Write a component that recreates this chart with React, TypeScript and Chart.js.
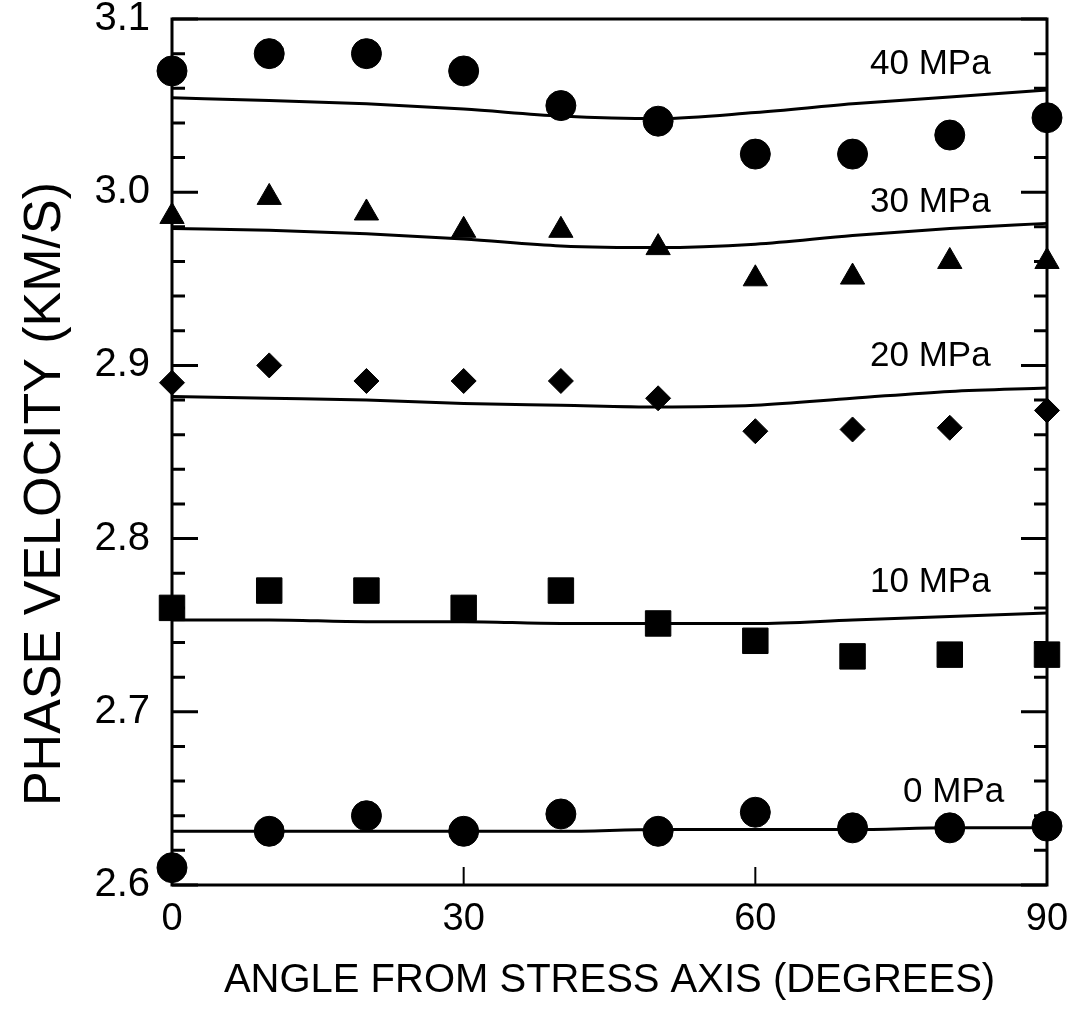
import React, { useEffect, useRef } from 'react';
import { Chart, registerables } from 'chart.js';

Chart.register(...registerables);

// ---- data ----
const angles = [0, 10, 20, 30, 40, 50, 60, 70, 80, 90];

const measured0 = [2.610, 2.631, 2.640, 2.631, 2.641, 2.631, 2.642, 2.633, 2.633, 2.634];
const measured10 = [2.760, 2.770, 2.770, 2.760, 2.770, 2.751, 2.741, 2.732, 2.733, 2.733];
const measured20 = [2.890, 2.900, 2.891, 2.891, 2.891, 2.881, 2.862, 2.863, 2.864, 2.874];
const measured30 = [2.986, 2.997, 2.988, 2.978, 2.978, 2.968, 2.950, 2.951, 2.960, 2.960];
const measured40 = [3.070, 3.080, 3.080, 3.070, 3.050, 3.041, 3.022, 3.022, 3.033, 3.043];

const model0 = [2.631, 2.631, 2.631, 2.631, 2.631, 2.632, 2.632, 2.632, 2.633, 2.633];
const model10 = [2.753, 2.753, 2.752, 2.752, 2.751, 2.751, 2.751, 2.753, 2.755, 2.757];
const model20 = [2.882, 2.881, 2.880, 2.878, 2.877, 2.876, 2.877, 2.881, 2.885, 2.887];
const model30 = [2.979, 2.978, 2.976, 2.973, 2.969, 2.968, 2.970, 2.975, 2.979, 2.982];
const model40 = [3.0545, 3.053, 3.051, 3.048, 3.044, 3.0425, 3.046, 3.051, 3.055, 3.059];

const stressLabels = ['40 MPa', '30 MPa', '20 MPa', '10 MPa', '0 MPa'];
const stressLabelY = [3.074, 2.994, 2.9055, 2.775, 2.6535];
const stressLabelX = [84.2, 84.2, 84.2, 84.2, 85.6];

const xTickValues = [0, 30, 60, 90];
const yTickValues = [2.6, 2.7, 2.8, 2.9, 3.0, 3.1];
const yMinorStep = 0.02;

const xTitle = 'ANGLE FROM STRESS AXIS (DEGREES)';
const yTitle = 'PHASE VELOCITY (KM/S)';

const FONT = '"Liberation Sans", Arial, Helvetica, sans-serif';

const pts = (ys: number[]) => angles.map((a, i) => ({ x: a, y: ys[i] }));

const decor = {
  id: 'decor',
  beforeDatasetsDraw(chart: any) {
    const { ctx, chartArea: a, scales } = chart;
    const x = scales.x;
    const y = scales.y;
    ctx.save();
    ctx.strokeStyle = '#000';
    ctx.lineWidth = 3;
    ctx.lineCap = 'butt';
    ctx.strokeRect(a.left, a.top, a.right - a.left, a.bottom - a.top);
    const n = Math.round((y.max - y.min) / yMinorStep);
    for (let i = 0; i <= n; i++) {
      const v = y.min + i * yMinorStep;
      const py = y.getPixelForValue(v);
      const len = i % 5 === 0 ? 26 : 13;
      ctx.beginPath();
      ctx.moveTo(a.left, py);
      ctx.lineTo(a.left + len, py);
      ctx.moveTo(a.right, py);
      ctx.lineTo(a.right - len, py);
      ctx.stroke();
    }
    ctx.lineWidth = 2;
    [30, 60].forEach((v) => {
      const px = x.getPixelForValue(v);
      ctx.beginPath();
      ctx.moveTo(px, a.bottom);
      ctx.lineTo(px, a.bottom - 18);
      ctx.stroke();
    });
    ctx.restore();
  },
  afterDatasetsDraw(chart: any) {
    const { ctx, scales } = chart;
    const x = scales.x;
    const y = scales.y;
    ctx.save();
    ctx.fillStyle = '#000';
    ctx.font = `35px ${FONT}`;
    ctx.textAlign = 'right';
    ctx.textBaseline = 'middle';
    stressLabels.forEach((t, i) => {
      ctx.fillText(t, x.getPixelForValue(stressLabelX[i]), y.getPixelForValue(stressLabelY[i]));
    });
    // y axis title
    ctx.font = `52px ${FONT}`;
    ctx.textAlign = 'center';
    ctx.textBaseline = 'middle';
    ctx.translate(46, 494);
    ctx.rotate(-Math.PI / 2);
    ctx.fillText(yTitle, 0, 0);
    ctx.restore();
  },
};

export default function App() {
  const ref = useRef<HTMLCanvasElement | null>(null);

  useEffect(() => {
    if (!ref.current) return;
    const lineDs = (ys: number[]) => ({
      type: 'line' as const,
      data: pts(ys),
      borderColor: '#000',
      borderWidth: 3,
      pointRadius: 0,
      fill: false,
      cubicInterpolationMode: 'monotone' as const,
      clip: false as any,
      order: 2,
    });
    const scatterDs = (ys: number[], style: string, r: number) => ({
      type: 'scatter' as const,
      data: pts(ys),
      pointStyle: style,
      pointRadius: r,
      pointBackgroundColor: '#000',
      pointBorderColor: '#000',
      pointBorderWidth: 1,
      showLine: false,
      clip: false as any,
      order: 1,
    });
    const chart = new Chart(ref.current, {
      type: 'scatter',
      data: {
        datasets: [
          lineDs(model0),
          lineDs(model10),
          lineDs(model20),
          lineDs(model30),
          lineDs(model40),
          scatterDs(measured0, 'circle', 15),
          scatterDs(measured10, 'rect', 18),
          scatterDs(measured20, 'rectRot', 12.5),
          scatterDs(measured30, 'triangle', 14),
          scatterDs(measured40, 'circle', 15),
        ] as any,
      },
      options: {
        animation: false,
        responsive: true,
        maintainAspectRatio: false,
        layout: { padding: { top: 16, right: 31, left: 0, bottom: 0 } },
        plugins: {
          legend: { display: false },
          tooltip: { enabled: false },
        },
        scales: {
          x: {
            type: 'linear',
            min: 0,
            max: 90,
            grid: { display: false, drawTicks: false },
            border: { display: false },
            afterFit: (s: any) => {
              s.height = 124;
              s.paddingLeft = 0;
              s.paddingRight = 0;
            },
            afterBuildTicks: (s: any) => { s.ticks = xTickValues.map((v) => ({ value: v })); },
            ticks: {
              color: '#000',
              padding: 12,
              font: { size: 38, family: FONT },
              callback: (v: any) => String(v),
              maxRotation: 0,
              autoSkip: false,
            },
            title: {
              display: true,
              text: xTitle,
              color: '#000',
              font: { size: 40, family: FONT, lineHeight: 1 },
              padding: { top: 0, bottom: 8 },
            },
          },
          y: {
            type: 'linear',
            min: 2.6,
            max: 3.1,
            grid: { display: false, drawTicks: false },
            border: { display: false },
            afterFit: (s: any) => {
              s.width = 172;
              s.paddingTop = 0;
              s.paddingBottom = 0;
            },
            afterBuildTicks: (s: any) => { s.ticks = yTickValues.map((v) => ({ value: v })); },
            ticks: {
              color: '#000',
              padding: 22,
              font: { size: 40, family: FONT },
              callback: (v: any) => Number(v).toFixed(1),
              autoSkip: false,
            },
          },
        },
      },
      plugins: [decor],
    });
    return () => chart.destroy();
  }, []);

  return (
    <div style={{ position: 'absolute', left: 0, top: 0, width: 1078, height: 1009, background: '#fff' }}>
      <canvas ref={ref} />
    </div>
  );
}
